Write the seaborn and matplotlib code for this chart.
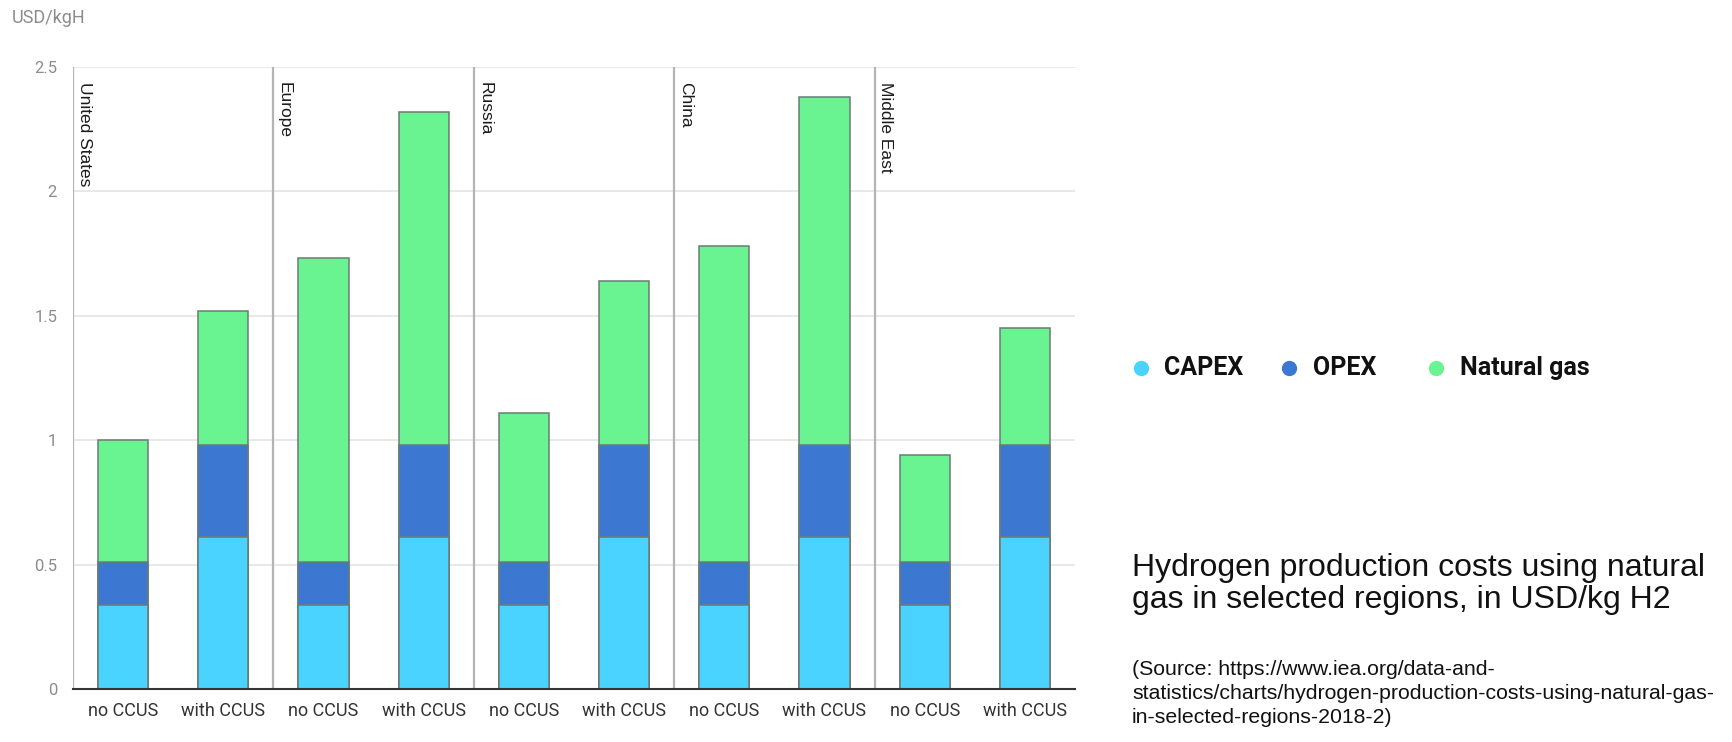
import numpy as np
import pandas as pd
import matplotlib
matplotlib.use("Agg")
import matplotlib.pyplot as plt
from matplotlib.lines import Line2D
import seaborn as sns

# Hydrogen production cost components, USD/kg H2
regions = ["United States", "Europe", "Russia", "China", "Middle East"]
scenarios = ["no CCUS", "with CCUS"]
capex = [0.34, 0.61, 0.34, 0.61, 0.34, 0.61, 0.34, 0.61, 0.34, 0.61]
opex = [0.17, 0.37, 0.17, 0.37, 0.17, 0.37, 0.17, 0.37, 0.17, 0.37]
natural_gas = [0.49, 0.54, 1.22, 1.34, 0.60, 0.66, 1.27, 1.40, 0.43, 0.47]
yticks = [0, 0.5, 1, 1.5, 2, 2.5]
ytick_labels = ["0", "0.5", "1", "1.5", "2", "2.5"]

series_names = ["CAPEX", "OPEX", "Natural gas"]
colors = {"CAPEX": "#49D3FE", "OPEX": "#3C78D2", "Natural gas": "#69F491"}

sns.set_theme(style="white")
plt.rcParams["font.family"] = ["Roboto", "DejaVu Sans"]

df = pd.DataFrame({
    "key": [f"{r}|{s}" for r in regions for s in scenarios],
    "scenario": [s for _ in regions for s in scenarios],
    "CAPEX": capex,
    "OPEX": opex,
    "Natural gas": natural_gas,
})
df["lvl1"] = df["CAPEX"]
df["lvl2"] = df["CAPEX"] + df["OPEX"]
df["lvl3"] = df["lvl2"] + df["Natural gas"]
order = list(df["key"])

fig = plt.figure(figsize=(17.32, 7.42), dpi=100)
ax = fig.add_axes([73 / 1732, 1 - 689.3 / 742, 1002 / 1732, 622.6 / 742])

# stacked bars drawn as cumulative layers, tallest first
for col, name in [("lvl3", "Natural gas"), ("lvl2", "OPEX"), ("lvl1", "CAPEX")]:
    sns.barplot(data=df, x="key", y=col, order=order, color=colors[name],
                saturation=1, width=0.5, edgecolor="#6b7b74", linewidth=1.1,
                ax=ax, zorder=3)

ax.set_xlim(-0.5, len(order) - 0.5)
ax.set_ylim(0, 2.5)
ax.set_xlabel("")
ax.set_ylabel("")

# horizontal grid
ax.set_yticks(yticks)
ax.set_yticklabels(ytick_labels)
ax.yaxis.grid(True, color="#e4e4e4", linewidth=1.2, zorder=0)
ax.xaxis.grid(False)
ax.set_axisbelow(True)
ax.tick_params(axis="y", length=0, pad=11.5, labelsize=12, labelcolor="#8c8c8c")

# category ticks
ax.set_xticks(range(len(order)))
ax.set_xticklabels(list(df["scenario"]), fontsize=13, color="#333333")
ax.set_xticks(np.arange(-0.5, len(order), 1.0), minor=True)
ax.tick_params(axis="x", which="major", length=0, pad=9)
ax.tick_params(axis="x", which="minor", length=12, width=1.4, color="#333333",
               direction="out")

for side in ["top", "right", "left"]:
    ax.spines[side].set_visible(False)
ax.spines["bottom"].set_color("#333333")
ax.spines["bottom"].set_linewidth(1.5)
ax.spines["bottom"].set_zorder(5)

# region separators and labels
for i, region in enumerate(regions):
    xsep = i * len(scenarios) - 0.5
    ax.axvline(xsep, color="#b4b4b4", linewidth=1.6, zorder=1)
    ax.text(xsep + 0.035, 0.975, region, rotation=270, ha="left", va="top",
            transform=ax.get_xaxis_transform(), fontsize=12.5, color="#1a1a1a",
            family=["Liberation Sans", "DejaVu Sans"])

fig.text(12 / 1732, 1 - 18 / 742, "USD/kgH", ha="left", va="center",
         fontsize=13, color="#8c8c8c")

# legend: circle markers with bold labels
legend_y = 1 - 368 / 742
marker_x = [1141, 1289, 1436]
label_x = [1164, 1313, 1460]
for name, mx, lx in zip(series_names, marker_x, label_x):
    fig.add_artist(Line2D([mx / 1732], [legend_y], marker="o", linestyle="",
                          markersize=10, markerfacecolor=colors[name],
                          markeredgecolor=colors[name],
                          transform=fig.transFigure))
    fig.text(lx / 1732, legend_y, name, ha="left", va="center",
             fontsize=18, fontweight="bold", color="#111111")

fig.text(1132 / 1732, 1 - 553 / 742,
         "Hydrogen production costs using natural\ngas in selected regions, in USD/kg H2",
         ha="left", va="top", fontsize=23, color="#111111", linespacing=1.08,
         family=["Liberation Sans", "DejaVu Sans"])
fig.text(1132 / 1732, 1 - 660 / 742,
         "(Source: https://www.iea.org/data-and-\n"
         "statistics/charts/hydrogen-production-costs-using-natural-gas-\n"
         "in-selected-regions-2018-2)",
         ha="left", va="top", fontsize=15.3, color="#111111", linespacing=1.32,
         family=["Liberation Sans", "DejaVu Sans"])

fig.savefig("out.png", dpi=100, facecolor="white")
